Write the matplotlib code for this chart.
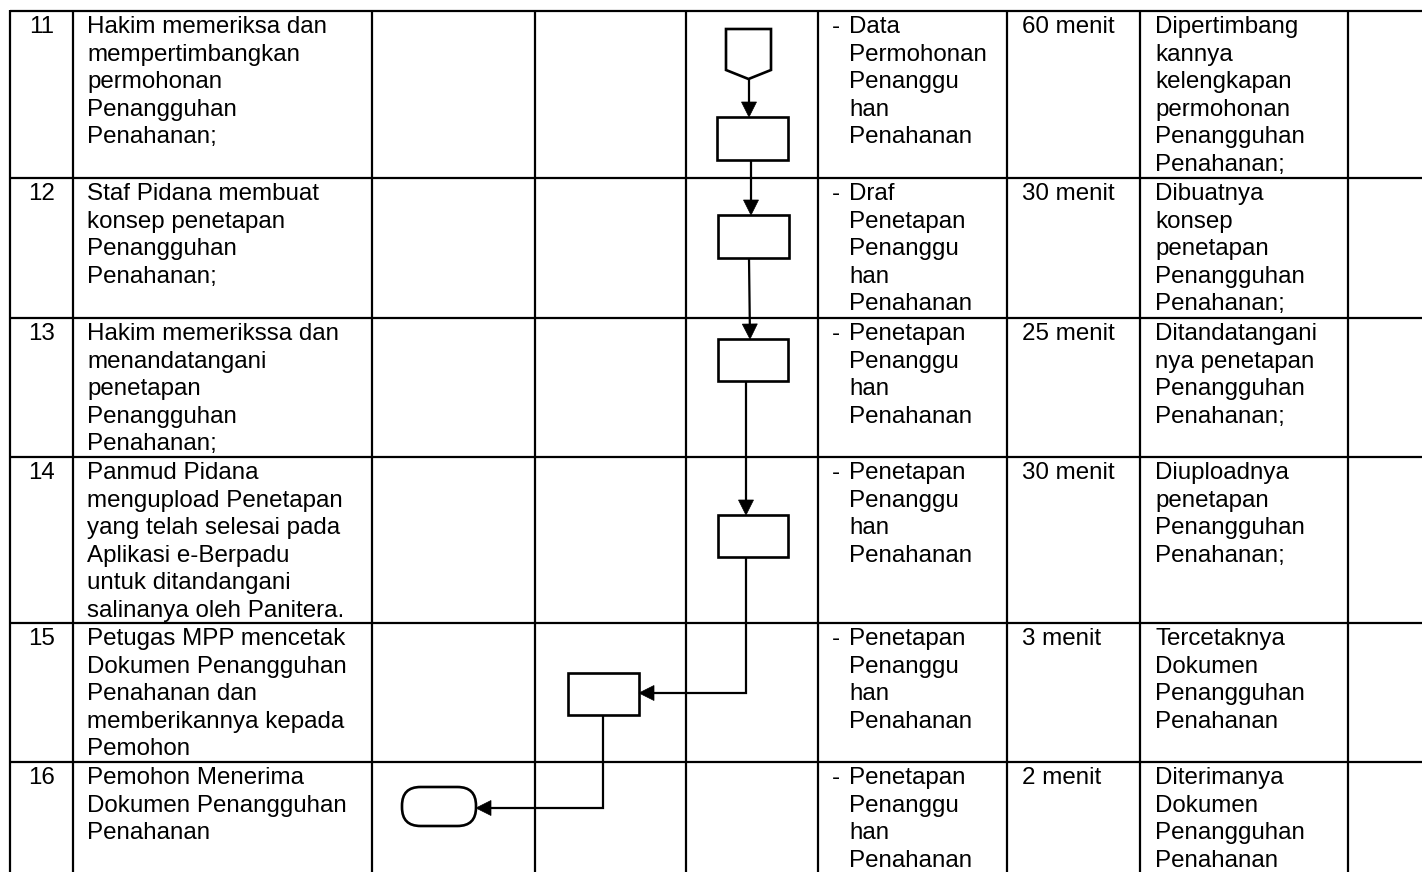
"""
* File name: plot.py
* Purpose: SOP table (steps 11 - 16) with the flow chart drawn in its lanes
"""
# -------------------------------------------------------------------
# INITIAL SETUP
import matplotlib
matplotlib.use("Agg")
import matplotlib.pyplot as plt
from matplotlib.patches import Rectangle, Polygon, FancyBboxPatch
import numpy as np

plt.rcParams['font.family'] = ['Liberation Sans', 'DejaVu Sans']

# -------------------------------------------------------------------
# TABLE DATA
nos = ['11', '12', '13', '14', '15', '16']

activities = [
    "Hakim memeriksa dan\nmempertimbangkan\npermohonan\nPenangguhan\nPenahanan;",
    "Staf Pidana membuat\nkonsep penetapan\nPenangguhan\nPenahanan;",
    "Hakim memerikssa dan\nmenandatangani\npenetapan\nPenangguhan\nPenahanan;",
    "Panmud Pidana\nmengupload Penetapan\nyang telah selesai pada\nAplikasi e-Berpadu\n"
    "untuk ditandangani\nsalinanya oleh Panitera.",
    "Petugas MPP mencetak\nDokumen Penangguhan\nPenahanan dan\nmemberikannya kepada\nPemohon",
    "Pemohon Menerima\nDokumen Penangguhan\nPenahanan",
]

documents = [
    "Data\nPermohonan\nPenanggu\nhan\nPenahanan",
    "Draf\nPenetapan\nPenanggu\nhan\nPenahanan",
    "Penetapan\nPenanggu\nhan\nPenahanan",
    "Penetapan\nPenanggu\nhan\nPenahanan",
    "Penetapan\nPenanggu\nhan\nPenahanan",
    "Penetapan\nPenanggu\nhan\nPenahanan",
]

times = ['60 menit', '30 menit', '25 menit', '30 menit', '3 menit', '2 menit']

outputs = [
    "Dipertimbang\nkannya\nkelengkapan\npermohonan\nPenangguhan\nPenahanan;",
    "Dibuatnya\nkonsep\npenetapan\nPenangguhan\nPenahanan;",
    "Ditandatangani\nnya penetapan\nPenangguhan\nPenahanan;",
    "Diuploadnya\npenetapan\nPenangguhan\nPenahanan;",
    "Tercetaknya\nDokumen\nPenangguhan\nPenahanan",
    "Diterimanya\nDokumen\nPenangguhan\nPenahanan",
]

# -------------------------------------------------------------------
# LAYOUT (pixels of the 1422 x 872 picture)
W, H = 1422, 872
col_edges = [10, 73, 372, 535, 686, 818, 1007, 1140, 1348]
row_edges = [11, 178, 318, 457, 623, 762]
first_base = 22     # top of row -> first baseline
line_step = 27.6    # baseline to baseline
fsize = 17.4
lw_table = 1.6
lw_shape = 1.9

# flow shapes: (kind, left, top, width, height)
shapes = [
    ('connector', 726, 29, 45, 50),
    ('process', 717, 117, 71, 43),
    ('process', 718, 215, 71, 43),
    ('process', 718, 339, 70, 42),
    ('process', 718, 515, 70, 42),
    ('process', 568, 673, 71, 42),
    ('terminator', 402, 787, 74, 39),
]

# flow lines, last point gets the arrow head
flows = [
    [(749, 79), (749, 117)],
    [(751, 160), (751, 215)],
    [(749, 258), (750, 339)],
    [(746, 381), (746, 515)],
    [(746, 557), (746, 693), (639, 693)],
    [(603, 715), (603, 808), (476, 808)],
]

# -------------------------------------------------------------------
# FIGURE
fig = plt.figure(figsize=(W / 100, H / 100), dpi=100)
ax = fig.add_axes([0, 0, 1, 1])
ax.set_xlim(0, W)
ax.set_ylim(H, 0)
ax.axis('off')

# grid lines of the table
for y in row_edges:
    ax.plot([col_edges[0], W], [y, y], color='black', lw=lw_table, solid_capstyle='butt')
for x in col_edges:
    ax.plot([x, x], [row_edges[0] - 1, H], color='black', lw=lw_table, solid_capstyle='butt')


def cell_text(x, top, text, ha='left'):
    # one text per line so the spacing matches the word document
    for i, line in enumerate(text.split('\n')):
        ax.text(x, top + first_base + i * line_step, line, fontsize=fsize,
                ha=ha, va='baseline', color='black')


for r in range(len(nos)):
    top = row_edges[r]
    cell_text((col_edges[0] + col_edges[1]) / 2, top, nos[r], ha='center')
    cell_text(col_edges[1] + 14, top, activities[r])
    ax.text(col_edges[5] + 14, top + first_base, '-', fontsize=fsize,
            ha='left', va='baseline', color='black')
    cell_text(col_edges[5] + 31, top, documents[r])
    cell_text(col_edges[6] + 15, top, times[r])
    cell_text(col_edges[7] + 15, top, outputs[r])

# -------------------------------------------------------------------
# FLOW CHART
for kind, x0, y0, w, h in shapes:
    if kind == 'process':
        ax.add_patch(Rectangle((x0, y0), w, h, fill=True, fc='white', ec='black', lw=lw_shape, zorder=3))
    elif kind == 'terminator':
        ax.add_patch(FancyBboxPatch((x0, y0), w, h, boxstyle='round,pad=0,rounding_size=%g' % (h / 2 - 1),
                                    fc='white', ec='black', lw=lw_shape, zorder=3))
    else:
        side = h - 9
        pts = [(x0, y0), (x0 + w, y0), (x0 + w, y0 + side), (x0 + w / 2, y0 + h), (x0, y0 + side)]
        ax.add_patch(Polygon(pts, closed=True, fc='white', ec='black', lw=lw_shape,
                             joinstyle='miter', zorder=3))

head_len, head_half = 15, 7.5
for path in flows:
    xs = [p[0] for p in path]
    ys = [p[1] for p in path]
    (xa, ya), (xb, yb) = path[-2], path[-1]
    d = np.array([xb - xa, yb - ya], dtype=float)
    d /= np.hypot(*d)
    n = np.array([-d[1], d[0]])
    base = np.array([xb, yb]) - d * head_len
    xs[-1], ys[-1] = base
    ax.plot(xs, ys, color='black', lw=lw_table, zorder=2, solid_joinstyle='miter')
    tri = [(xb, yb), tuple(base + n * head_half), tuple(base - n * head_half)]
    ax.add_patch(Polygon(tri, closed=True, fc='black', ec='black', lw=0.5, zorder=4))

fig.savefig('out.png', dpi=100)
